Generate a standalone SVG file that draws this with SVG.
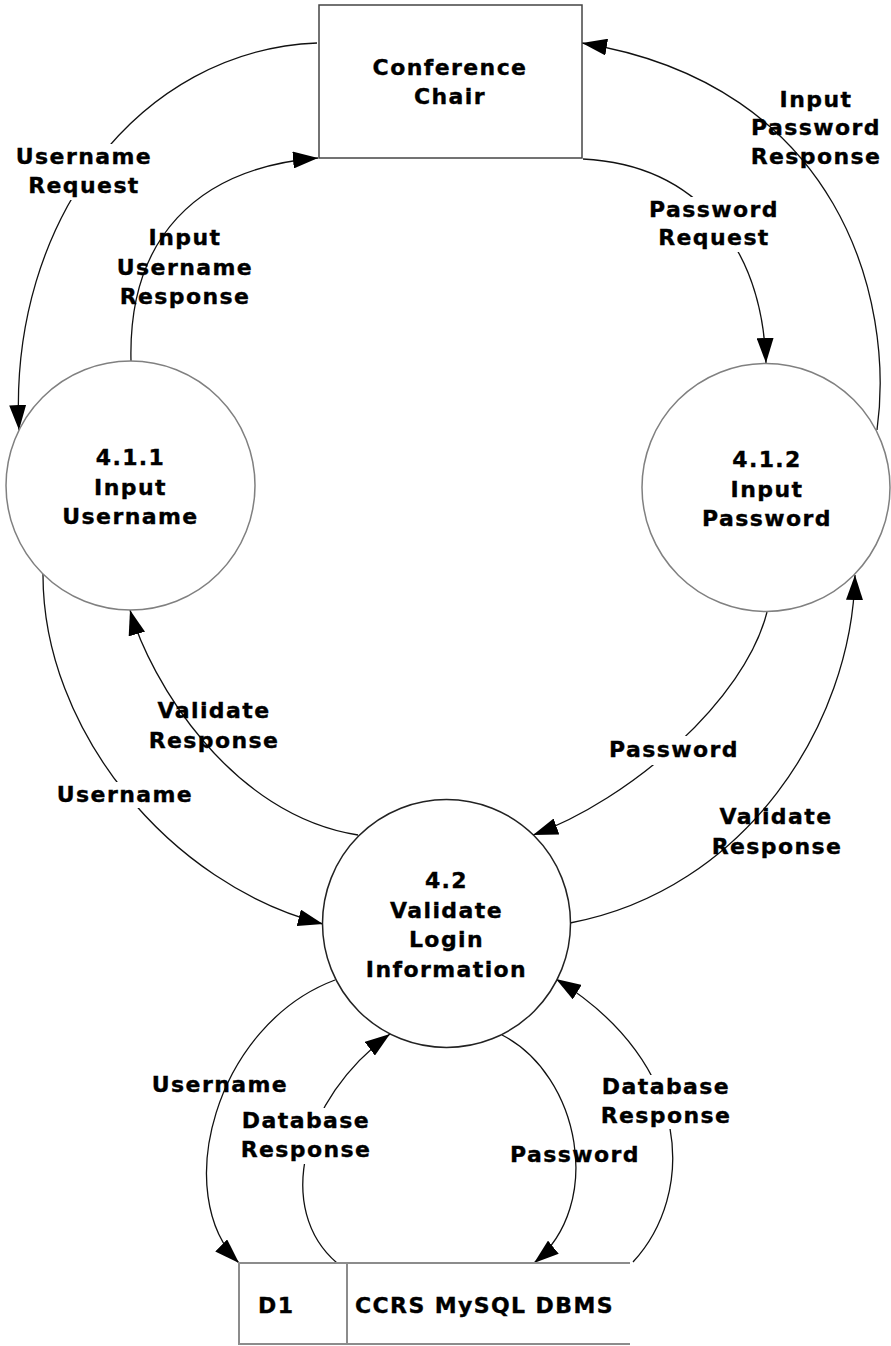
<svg xmlns="http://www.w3.org/2000/svg" width="891" height="1346" viewBox="0 0 891 1346">
<style>
text{font-family:"DejaVu Sans","Verdana",sans-serif;font-weight:bold;font-size:22px;letter-spacing:1.4px;fill:#000;stroke:#000;stroke-width:0.35;text-anchor:middle}
.flow{fill:none;stroke:#111;stroke-width:1.3}
.arr{marker-end:url(#ah)}
.proc{fill:#fff;stroke:#808080;stroke-width:1.5}
.proc2{fill:#fff;stroke:#222;stroke-width:1.5}
.ext{fill:#fff;stroke:#444;stroke-width:1.5}
.ds{fill:none;stroke:#8c8c8c;stroke-width:2}
.bg{fill:#fff}
.st{text-anchor:start}
</style>
<defs>
<marker id="ah" markerUnits="userSpaceOnUse" viewBox="0 0 25 17" refX="25" refY="8.5" markerWidth="25" markerHeight="17" orient="auto">
<path d="M0,0 L25,8.5 L0,17 Z" fill="#000"/>
</marker>
</defs>

<g id="connectors">
<path id="c-username-request" class="flow arr" d="M317,43 C140,50 8,220 19,430"/>
<path id="c-input-username-response" class="flow arr" d="M131,361 C128,240 195,168 318,158"/>
<path id="c-password-request" class="flow arr" d="M583,159 C700,165 762,250 766,363"/>
<path id="c-input-password-response" class="flow arr" d="M877,430 C895,300 840,85 582,43"/>
<path id="c-validate-response-left" class="flow arr" d="M358,835 C230,815 150,680 130,610"/>
<path id="c-username-left" class="flow arr" d="M43,573 C42,730 170,885 323,924"/>
<path id="c-password-mid" class="flow arr" d="M767,612 C745,700 630,800 533,835"/>
<path id="c-validate-response-right" class="flow arr" d="M570,923 C745,890 852,725 855,575"/>
<path id="c-username-bottom" class="flow arr" d="M335,980 C215,1025 170,1195 239,1263"/>
<path id="c-db-response-left" class="flow arr" d="M337,1263 C275,1210 300,1100 390,1034"/>
<path id="c-password-bottom" class="flow arr" d="M502,1035 C580,1075 605,1205 534,1263"/>
<path id="c-db-response-right" class="flow arr" d="M633,1262 C695,1195 695,1065 556,979"/>
</g>

<g id="conference-chair">
<rect class="ext" x="319" y="5" width="263" height="153"/>
<text x="450" y="75">Conference</text>
<text x="450" y="104">Chair</text>
</g>

<g id="p-4-1-1">
<circle class="proc" cx="130.5" cy="485.5" r="124.5"/>
<text x="130.5" y="465">4.1.1</text>
<text x="130.5" y="495">Input</text>
<text x="130.5" y="524">Username</text>
</g>

<g id="p-4-1-2">
<circle class="proc" cx="766" cy="487.5" r="124"/>
<text x="767" y="467">4.1.2</text>
<text x="767" y="497">Input</text>
<text x="767" y="526">Password</text>
</g>

<g id="p-4-2">
<circle class="proc2" cx="446.5" cy="923.5" r="124"/>
<text x="446.5" y="888">4.2</text>
<text x="446.5" y="918">Validate</text>
<text x="446.5" y="947">Login</text>
<text x="446.5" y="977">Information</text>
</g>

<g id="d1-store">
<path class="ds" d="M630,1263 H239 V1345 M239,1344 H630 M347,1263 V1345"/>
<text class="st" x="258" y="1313">D1</text>
<text class="st" x="355" y="1313">CCRS MySQL DBMS</text>
</g>

<g id="labels">
<rect class="bg" x="12" y="144" width="144" height="56"/>
<text x="84" y="164">Username</text>
<text x="84" y="193">Request</text>

<text x="185" y="245">Input</text>
<text x="185" y="275">Username</text>
<text x="185" y="304">Response</text>

<rect class="bg" x="644" y="197" width="140" height="55"/>
<text x="714" y="217">Password</text>
<text x="714" y="245">Request</text>

<text x="816" y="107">Input</text>
<text x="816" y="135">Password</text>
<text x="816" y="164">Response</text>

<text x="214" y="718">Validate</text>
<text x="214" y="748">Response</text>

<rect class="bg" x="54" y="782" width="142" height="26"/>
<text x="125" y="802">Username</text>

<rect class="bg" x="604" y="736" width="140" height="29"/>
<text x="674" y="757">Password</text>

<text x="776" y="824">Validate</text>
<text x="777" y="854">Response</text>

<text x="220" y="1092">Username</text>

<rect class="bg" x="239" y="1108" width="136" height="56"/>
<text x="306" y="1128">Database</text>
<text x="306" y="1157">Response</text>

<text x="575" y="1162">Password</text>

<rect class="bg" x="597" y="1075" width="137" height="54"/>
<text x="666" y="1094">Database</text>
<text x="666" y="1123">Response</text>
</g>
</svg>
